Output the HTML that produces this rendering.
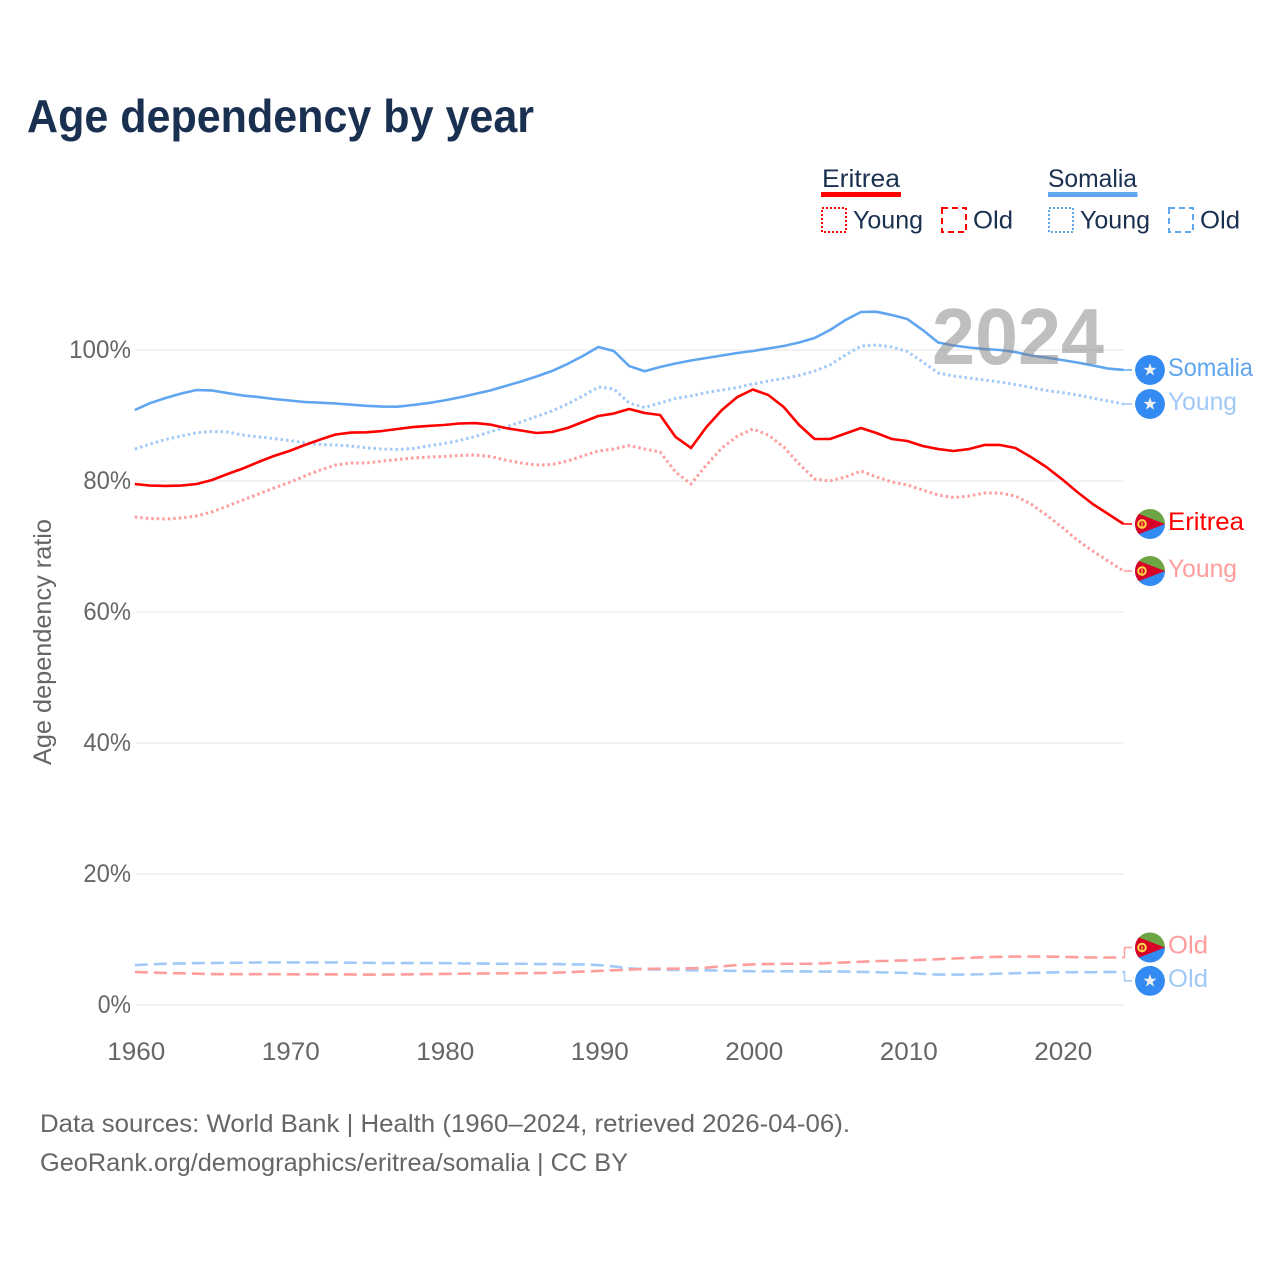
<!DOCTYPE html>
<html lang="en">
<head>
<meta charset="utf-8">
<title>Age dependency by year</title>
<style>
html,body{margin:0;padding:0;background:#fff;}
svg{display:block;font-family:"Liberation Sans",sans-serif;}
</style>
</head>
<body>
<svg id="chart" xmlns="http://www.w3.org/2000/svg" width="1280" height="1280" viewBox="0 0 1280 1280">
  <defs>
    <clipPath id="flag-clip"><circle cx="0" cy="0" r="15"/></clipPath>
  </defs>
  <text x="27" y="132" font-size="46" font-weight="700" fill="#1a3050" textLength="507" lengthAdjust="spacingAndGlyphs">Age dependency by year</text>

  <g font-size="25" fill="#1a3050">
    <text x="822" y="187" textLength="78" lengthAdjust="spacingAndGlyphs">Eritrea</text>
    <rect x="821" y="192" width="80" height="5" fill="#ff0000"/>
    <rect x="822" y="208" width="24" height="24" fill="none" stroke="#ff0000" stroke-width="2" stroke-dasharray="2 2"/>
    <text x="853" y="228.5" textLength="70" lengthAdjust="spacingAndGlyphs">Young</text>
    <rect x="942" y="208" width="24" height="24" fill="none" stroke="#ff0000" stroke-width="2" stroke-dasharray="6 4"/>
    <text x="973" y="228.5" textLength="40" lengthAdjust="spacingAndGlyphs">Old</text>
    <text x="1048" y="187" textLength="89" lengthAdjust="spacingAndGlyphs">Somalia</text>
    <rect x="1048" y="192" width="89.5" height="5" fill="#60a5f0"/>
    <rect x="1049" y="208" width="24" height="24" fill="none" stroke="#60a5f0" stroke-width="2" stroke-dasharray="2 2"/>
    <text x="1080" y="228.5" textLength="70" lengthAdjust="spacingAndGlyphs">Young</text>
    <rect x="1169" y="208" width="24" height="24" fill="none" stroke="#60a5f0" stroke-width="2" stroke-dasharray="6 4"/>
    <text x="1200" y="228.5" textLength="40" lengthAdjust="spacingAndGlyphs">Old</text>
  </g>

  <g id="grid"></g>
  <g id="y-ticks"></g>
  <g id="x-ticks"></g>
  <text transform="translate(51,765) rotate(-90)" font-size="25" fill="#666666" textLength="246" lengthAdjust="spacingAndGlyphs">Age dependency ratio</text>
  <g id="series"></g>
  <text x="932" y="364" font-size="80" font-weight="700" fill="#808080" fill-opacity="0.5" textLength="172" lengthAdjust="spacingAndGlyphs">2024</text>
  <g id="labels"></g>

  <text x="40" y="1132" font-size="25" fill="#666666" textLength="810" lengthAdjust="spacingAndGlyphs">Data sources: World Bank | Health (1960–2024, retrieved 2026-04-06).</text>
  <text x="40" y="1171" font-size="25" fill="#666666" textLength="588" lengthAdjust="spacingAndGlyphs">GeoRank.org/demographics/eritrea/somalia | CC BY</text>
</svg>
<script>
const startYear = 1960;
const yTickValues = [0, 20, 40, 60, 80, 100];
const xTickYears = [1960, 1970, 1980, 1990, 2000, 2010, 2020];
const somaliaTotal = [90.84,91.9,92.67,93.36,93.89,93.82,93.43,93.05,92.82,92.52,92.29,92.06,91.95,91.83,91.65,91.48,91.37,91.34,91.6,91.9,92.29,92.75,93.28,93.82,94.5,95.19,95.95,96.79,97.86,99.08,100.46,99.85,97.55,96.75,97.4,97.94,98.4,98.78,99.16,99.54,99.85,100.23,100.61,101.14,101.83,103.05,104.58,105.8,105.85,105.34,104.73,103.05,101.14,100.69,100.38,100.15,100.0,99.69,99.16,98.85,98.47,98.09,97.63,97.17,96.95];
const somaliaYoung = [84.88,85.65,86.33,86.87,87.37,87.56,87.48,87.02,86.72,86.49,86.18,85.85,85.57,85.5,85.34,85.08,84.88,84.81,84.96,85.34,85.72,86.18,86.79,87.48,88.24,89.01,89.85,90.69,91.75,92.98,94.35,94.05,91.9,91.22,91.9,92.6,92.98,93.51,93.89,94.27,94.81,95.27,95.65,96.11,96.79,97.71,99.24,100.61,100.76,100.46,99.77,98.17,96.49,96.03,95.72,95.42,95.11,94.73,94.27,93.82,93.51,93.13,92.67,92.21,91.75];
const somaliaOld = [6.1,6.2,6.3,6.35,6.4,6.4,6.45,6.45,6.5,6.5,6.5,6.5,6.5,6.5,6.45,6.45,6.4,6.4,6.4,6.4,6.4,6.35,6.35,6.3,6.3,6.3,6.25,6.25,6.2,6.2,6.1,5.9,5.6,5.45,5.4,5.35,5.3,5.3,5.25,5.2,5.15,5.15,5.15,5.15,5.1,5.1,5.1,5.05,5.0,4.95,4.9,4.75,4.65,4.65,4.65,4.7,4.8,4.85,4.9,4.95,5.0,5.0,5.0,5.05,5.05];
const eritreaTotal = [79.54,79.31,79.24,79.31,79.54,80.15,81.07,81.91,82.9,83.82,84.58,85.5,86.33,87.1,87.4,87.43,87.63,87.94,88.24,88.4,88.55,88.78,88.85,88.62,88.09,87.71,87.33,87.48,88.09,89.01,89.92,90.3,90.99,90.38,90.08,86.72,85.04,88.24,90.84,92.82,93.97,93.13,91.3,88.55,86.41,86.41,87.25,88.09,87.33,86.41,86.11,85.34,84.88,84.58,84.88,85.5,85.5,85.04,83.66,82.14,80.3,78.32,76.49,74.96,73.44];
const eritreaYoung = [74.5,74.27,74.2,74.35,74.66,75.27,76.18,77.1,78.01,78.93,79.77,80.76,81.68,82.44,82.75,82.75,83.05,83.28,83.51,83.66,83.74,83.89,83.97,83.74,83.2,82.75,82.44,82.52,83.05,83.82,84.58,84.88,85.42,84.88,84.43,81.37,79.54,82.44,85.04,86.87,87.94,87.02,85.19,82.6,80.3,80.0,80.61,81.53,80.61,79.85,79.39,78.63,77.86,77.48,77.71,78.17,78.17,77.71,76.49,74.81,72.98,70.99,69.31,67.79,66.26];
const eritreaOld = [5.04,4.96,4.89,4.84,4.78,4.73,4.7,4.7,4.7,4.7,4.69,4.69,4.69,4.67,4.66,4.64,4.64,4.66,4.68,4.72,4.75,4.78,4.8,4.82,4.84,4.85,4.87,4.92,5.0,5.1,5.2,5.3,5.4,5.5,5.55,5.55,5.6,5.7,5.9,6.1,6.2,6.25,6.3,6.3,6.3,6.4,6.5,6.6,6.7,6.75,6.8,6.9,7.0,7.1,7.2,7.3,7.35,7.4,7.4,7.4,7.35,7.3,7.25,7.25,7.25];

const NS = 'http://www.w3.org/2000/svg';
const X0 = 134.8, PX_PER_YEAR = 15.45, Y0 = 1005, PX_PER_PCT = 6.55;
function xScale(year) { return X0 + (year - startYear) * PX_PER_YEAR; }
function yScale(v) { return Y0 - v * PX_PER_PCT; }
function make(tag, attrs, parent) {
  const el = document.createElementNS(NS, tag);
  for (const k in attrs) el.setAttribute(k, attrs[k]);
  parent.appendChild(el);
  return el;
}
const grid = document.getElementById('grid');
const yTicks = document.getElementById('y-ticks');
yTickValues.forEach(function (v) {
  const line = make('line', {x1: 136, x2: 1124, y1: yScale(v), y2: yScale(v), stroke: '#eeeeee', 'stroke-width': 1.5}, grid);
  
  
  const label = v + '%';
  const t = make('text', {x: 131, y: yScale(v) + 8, 'text-anchor': 'end', 'font-size': 25, fill: '#666666', textLength: (label.length - 1) * 14.3 + 19, lengthAdjust: 'spacingAndGlyphs'}, yTicks);
  t.textContent = label;
  
  
});
const xTicks = document.getElementById('x-ticks');
xTickYears.forEach(function (yr) {
  const t = make('text', {x: xScale(yr) + 1.5, y: 1060, 'text-anchor': 'middle', 'font-size': 25, fill: '#666666', textLength: 58, lengthAdjust: 'spacingAndGlyphs'}, xTicks);
  t.textContent = String(yr);
  
  
});

const seriesList = [
  {id: 'somalia-total', values: somaliaTotal, color: '#60a5f0', dash: null, sw: 2.6, label: 'Somalia', w: 85, off: 0, flag: 'so'},
  {id: 'somalia-young', values: somaliaYoung, color: '#a0c9f7', dash: '2.5 3', sw: 3, label: 'Young', w: 69, off: 0, flag: 'so'},
  {id: 'somalia-old', values: somaliaOld, color: '#a0c9f7', dash: '13 6', sw: 2.6, label: 'Old', w: 40, off: 9, flag: 'so'},
  {id: 'eritrea-total', values: eritreaTotal, color: '#ff0000', dash: null, sw: 2.6, label: 'Eritrea', w: 76, off: 0, flag: 'er'},
  {id: 'eritrea-young', values: eritreaYoung, color: '#ff9c9c', dash: '2.5 3', sw: 3, label: 'Young', w: 69, off: 0, flag: 'er'},
  {id: 'eritrea-old', values: eritreaOld, color: '#ff9c9c', dash: '13 6', sw: 2.6, label: 'Old', w: 40, off: -10, flag: 'er'}
];
const seriesG = document.getElementById('series');
const labelsG = document.getElementById('labels');

function drawFlag(kind, cy, parent) {
  const g = make('g', {transform: 'translate(1150,' + cy + ')', 'clip-path': 'url(#flag-clip)'}, parent);
  
  
  if (kind === 'so') {
    make('circle', {cx: 0, cy: 0, r: 15, fill: '#338af3'}, g);
    const pts = [];
    for (let i = 0; i < 10; i++) {
      const r = i % 2 ? 2.7 : 7;
      const a = -Math.PI / 2 + i * Math.PI / 5;
      pts.push((r * Math.cos(a)).toFixed(2) + ',' + (r * Math.sin(a)).toFixed(2));
    }
    make('polygon', {points: pts.join(' '), fill: '#f0f0f0'}, g);
  } else {
    make('rect', {x: -15, y: -15, width: 30, height: 15, fill: '#6da544'}, g);
    make('rect', {x: -15, y: 0, width: 30, height: 15, fill: '#338af3'}, g);
    make('polygon', {points: '-16,-12 15,0 -16,12', fill: '#d80027'}, g);
    make('circle', {cx: -8, cy: 0, r: 3.8, fill: 'none', stroke: '#ffda44', 'stroke-width': 2}, g);
    make('line', {x1: -8, x2: -8, y1: -2, y2: 3, stroke: '#ffda44', 'stroke-width': 1.2}, g);
  }
}

seriesList.forEach(function (s) {
  const pts = s.values.map(function (v, i) {
    return xScale(startYear + i).toFixed(2) + ',' + yScale(v).toFixed(2);
  }).join(' ');
  const attrs = {points: pts, fill: 'none', stroke: s.color, 'stroke-width': s.sw, 'stroke-linejoin': 'round'};
  if (s.dash) attrs['stroke-dasharray'] = s.dash;
  const line = make('polyline', attrs, seriesG);
  
  

  const endX = xScale(startYear + s.values.length - 1);
  const endY = yScale(s.values[s.values.length - 1]);
  const my = endY + s.off;
  const leader = make('polyline', {points: endX + ',' + endY + ' 1124.5,' + endY + ' 1124.5,' + my + ' 1132,' + my, fill: 'none', stroke: s.color, 'stroke-width': 1.5}, labelsG);
  
  
  drawFlag(s.flag, my, labelsG);
  const t = make('text', {x: 1168, y: my + 6, 'font-size': 25, fill: s.color, textLength: s.w, lengthAdjust: 'spacingAndGlyphs'}, labelsG);
  t.textContent = s.label;
  
  
});
</script>
</body>
</html>
